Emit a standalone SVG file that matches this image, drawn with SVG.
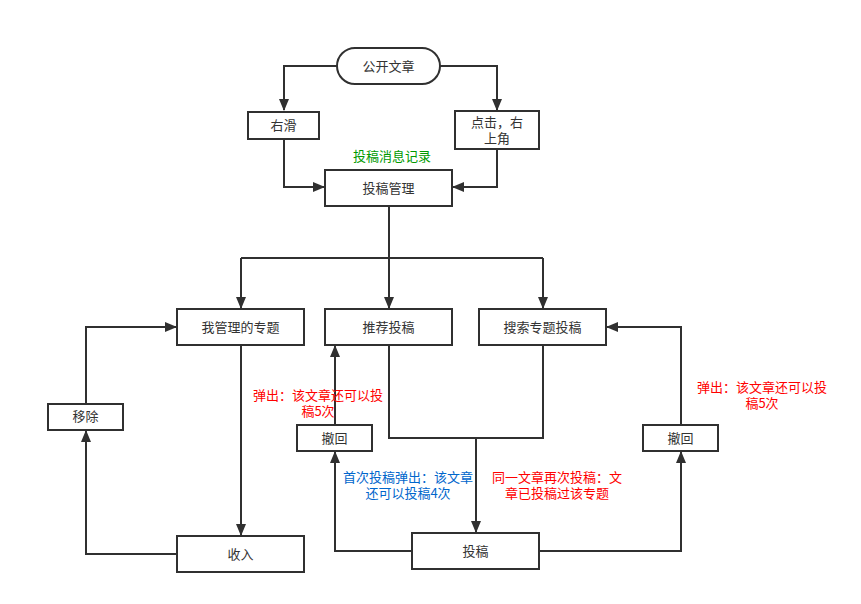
<svg xmlns="http://www.w3.org/2000/svg" width="861" height="604" viewBox="0 0 861 604">
<style>
.box{fill:#fff;stroke:#303030;stroke-width:2}
.t{font-family:"Noto Sans CJK SC","Liberation Sans",sans-serif;font-size:13px;fill:#333;text-anchor:middle}
.c{fill:none;stroke:#303030;stroke-width:2}
.red{fill:#ff0000}
.blue{fill:#0066cc}
.green{fill:#009900}
</style>
<defs>
<marker id="a" markerUnits="userSpaceOnUse" markerWidth="12" markerHeight="12" refX="11" refY="5" orient="auto" viewBox="0 0 12 10">
<path d="M0,0 L12,5 L0,10 Z" fill="#303030"/>
</marker>
</defs>
<rect width="861" height="604" fill="#fff"/>
<g id="connectors">
<path class="c" d="M337,66 H284 V110" marker-end="url(#a)"/>
<path class="c" d="M440,66 H497 V110" marker-end="url(#a)"/>
<path class="c" d="M284,140 V187 H324" marker-end="url(#a)"/>
<path class="c" d="M497,150 V187 H453" marker-end="url(#a)"/>
<path class="c" d="M389,206 V258"/>
<path class="c" d="M241,258 H543"/>
<path class="c" d="M241,258 V308" marker-end="url(#a)"/>
<path class="c" d="M389,258 V308" marker-end="url(#a)"/>
<path class="c" d="M543,258 V308" marker-end="url(#a)"/>
<path class="c" d="M335,425 V346" marker-end="url(#a)"/>
<path class="c" d="M389,345 V438 H543 V345"/>
<path class="c" d="M476,438 V532" marker-end="url(#a)"/>
<path class="c" d="M412,551 H335 V452" marker-end="url(#a)"/>
<path class="c" d="M539,551 H681 V452" marker-end="url(#a)"/>
<path class="c" d="M681,425 V327 H607" marker-end="url(#a)"/>
<path class="c" d="M241,345 V535" marker-end="url(#a)"/>
<path class="c" d="M177,554 H86 V431" marker-end="url(#a)"/>
<path class="c" d="M86,404 V327 H176" marker-end="url(#a)"/>
</g>
<g id="n-public"><rect class="box" x="337" y="48" width="103" height="36" rx="18"/><text class="t" x="388.5" y="71">公开文章</text></g>
<g id="n-swipe"><rect class="box" x="248" y="112" width="71" height="27"/><text class="t" x="283.5" y="130">右滑</text></g>
<g id="n-click"><rect class="box" x="455" y="111" width="84" height="38"/><text class="t" x="497" y="127">点击，右</text><text class="t" x="497" y="143">上角</text></g>
<g id="lbl-record"><text class="t green" x="392" y="161">投稿消息记录</text></g>
<g id="n-manage"><rect class="box" x="325" y="170" width="127" height="36"/><text class="t" x="388.5" y="193">投稿管理</text></g>
<g id="n-my"><rect class="box" x="177" y="309" width="127" height="36"/><text class="t" x="240.5" y="332">我管理的专题</text></g>
<g id="n-rec"><rect class="box" x="325" y="309" width="127" height="36"/><text class="t" x="388.5" y="332">推荐投稿</text></g>
<g id="n-search"><rect class="box" x="479" y="309" width="127" height="36"/><text class="t" x="542.5" y="332">搜索专题投稿</text></g>
<g id="n-remove"><rect class="box" x="48" y="404" width="75" height="26"/><text class="t" x="85.5" y="421">移除</text></g>
<g id="n-withdraw1"><rect class="box" x="297" y="425" width="75" height="26"/><text class="t" x="334.5" y="443">撤回</text></g>
<g id="n-withdraw2"><rect class="box" x="643" y="425" width="75" height="26"/><text class="t" x="680.5" y="443">撤回</text></g>
<g id="n-include"><rect class="box" x="177" y="536" width="127" height="36"/><text class="t" x="240.5" y="559">收入</text></g>
<g id="n-submit"><rect class="box" x="412" y="533" width="127" height="36"/><text class="t" x="475.5" y="556">投稿</text></g>
<g id="lbl-1"><text class="t red" x="318" y="400">弹出：该文章还可以投</text><text class="t red" x="318" y="416">稿5次</text></g>
<g id="lbl-2"><text class="t red" x="762" y="392">弹出：该文章还可以投</text><text class="t red" x="762" y="408">稿5次</text></g>
<g id="lbl-3"><text class="t blue" x="408" y="482">首次投稿弹出：该文章</text><text class="t blue" x="408" y="498">还可以投稿4次</text></g>
<g id="lbl-4"><text class="t red" x="557" y="482">同一文章再次投稿：文</text><text class="t red" x="557" y="498">章已投稿过该专题</text></g>
</svg>
